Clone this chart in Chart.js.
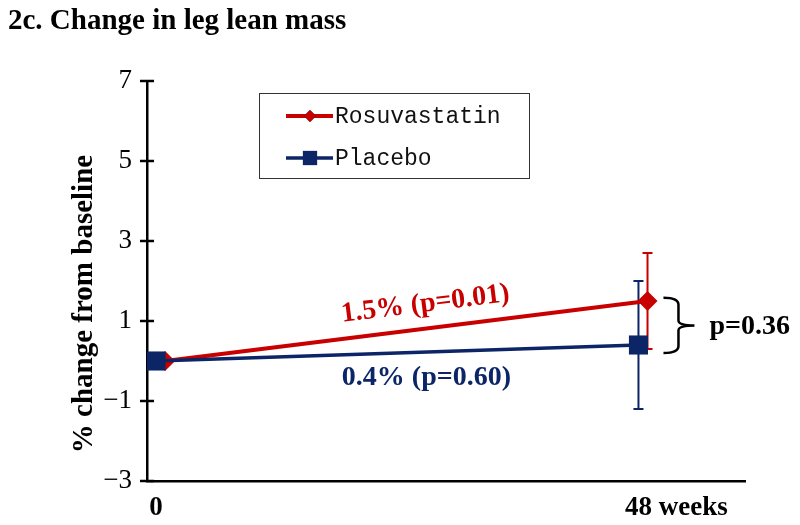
<!DOCTYPE html>
<html>
<head>
<meta charset="utf-8">
<script src="https://cdn.jsdelivr.net/npm/chart.js@4.4.1/dist/chart.umd.min.js"></script>
<style>
  html, body { margin: 0; padding: 0; background: #fff; }
  #wrap { width: 800px; height: 525px; }
</style>
</head>
<body>
<div id="wrap"><canvas id="leanChart"></canvas></div>
<script>
// data
const weeks = [0, 48];
const xTickLabels = ['0', '48'];
const xUnit = 'weeks';
const yTicks = [-3, -1, 1, 3, 5, 7];

const rosuvaMean = [0, 1.5];
const rosuvaUpper = [null, 2.7];
const rosuvaLower = [null, 0.3];

const placeboMean = [0, 0.4];
const placeboUpper = [null, 2.0];
const placeboLower = [null, -1.2];

const seriesNames = ['Rosuvastatin', 'Placebo'];
const changeNotes = ['1.5% (p=0.01)', '0.4% (p=0.60)'];
const betweenNote = 'p=0.36';

const RED = '#C80000';
const NAVY = '#0B2566';
const SERIF = '"Liberation Serif", "DejaVu Serif", serif';
const MONO = '"Liberation Mono", "DejaVu Sans Mono", monospace';
const rosuvaDodge = 0.9; // Excel puts the red series a little to the right
const X_LABEL_PAD = 11;
const X_LABEL_SIZE = 27;

const toPoints = (vals, shift) => vals.map((v, i) => ({ x: weeks[i] + shift, y: v }));

const extras = {
  id: 'extras',
  beforeDatasetsDraw(chart) {
    const { ctx, chartArea, scales: { x, y } } = chart;
    ctx.save();
    // y ticks crossing the axis
    ctx.strokeStyle = '#000';
    ctx.lineWidth = 2.5;
    yTicks.forEach(t => {
      const py = y.getPixelForValue(t);
      ctx.beginPath();
      ctx.moveTo(chartArea.left - 7, py);
      ctx.lineTo(chartArea.left + 7, py);
      ctx.stroke();
    });
    // error bars
    const bars = [
      [rosuvaUpper, rosuvaLower, rosuvaDodge, RED],
      [placeboUpper, placeboLower, 0, NAVY],
    ];
    bars.forEach(([up, lo, shift, color]) => {
      ctx.strokeStyle = color;
      ctx.lineWidth = 2;
      up.forEach((u, i) => {
        if (u === null) return;
        const px = x.getPixelForValue(weeks[i] + shift);
        const pu = y.getPixelForValue(u);
        const pl = y.getPixelForValue(lo[i]);
        ctx.beginPath();
        ctx.moveTo(px, pu); ctx.lineTo(px, pl);
        ctx.moveTo(px - 5, pu); ctx.lineTo(px + 5, pu);
        ctx.moveTo(px - 5, pl); ctx.lineTo(px + 5, pl);
        ctx.stroke();
      });
    });
    ctx.restore();
  },
  afterDraw(chart) {
    const { ctx, chartArea, scales: { x, y } } = chart;
    ctx.save();

    // title
    ctx.fillStyle = '#000';
    ctx.font = 'bold 29px ' + SERIF;
    ctx.textAlign = 'left';
    ctx.textBaseline = 'middle';
    ctx.fillText('2c. Change in leg lean mass', 8, 22);

    // y axis title
    ctx.save();
    ctx.translate(85, 304);
    ctx.rotate(-Math.PI / 2);
    ctx.textAlign = 'center';
    ctx.font = 'bold 29px ' + SERIF;
    ctx.fillText('% change from baseline', 0, 0);
    ctx.restore();

    // unit after the last x label, on the same line as the tick label
    ctx.font = 'bold ' + X_LABEL_SIZE + 'px ' + SERIF;
    const lastX = x.getPixelForValue(weeks[weeks.length - 1]);
    const half = ctx.measureText(xTickLabels[xTickLabels.length - 1]).width / 2;
    const labelY = chartArea.bottom + X_LABEL_PAD + X_LABEL_SIZE * 1.2 / 2;
    ctx.textAlign = 'left';
    ctx.fillText(' ' + xUnit, lastX + half, labelY);

    // change annotations
    const r0x = x.getPixelForValue(weeks[0] + rosuvaDodge), r0y = y.getPixelForValue(rosuvaMean[0]);
    const r1x = x.getPixelForValue(weeks[1] + rosuvaDodge), r1y = y.getPixelForValue(rosuvaMean[1]);
    const ang = Math.atan2(r1y - r0y, r1x - r0x);
    ctx.font = 'bold 28px ' + SERIF;
    ctx.textAlign = 'center';
    ctx.fillStyle = RED;
    ctx.save();
    ctx.translate(x.getPixelForValue(26.8), y.getPixelForValue(1.42));
    ctx.rotate(ang);
    ctx.fillText(changeNotes[0], 0, 0);
    ctx.restore();
    ctx.fillStyle = NAVY;
    ctx.fillText(changeNotes[1], x.getPixelForValue(26.9), y.getPixelForValue(-0.43));

    // brace between the groups at 48 weeks
    const bx = x.getPixelForValue(weeks[1]) + 25;
    const top = y.getPixelForValue(1.58), bot = y.getPixelForValue(0.2);
    const mid = (top + bot) / 2;
    ctx.strokeStyle = '#000';
    ctx.lineWidth = 2.5;
    ctx.beginPath();
    ctx.moveTo(bx, top);
    ctx.quadraticCurveTo(bx + 15, top, bx + 15, top + 7);
    ctx.lineTo(bx + 15, mid - 5);
    ctx.quadraticCurveTo(bx + 15, mid, bx + 31, mid);
    ctx.quadraticCurveTo(bx + 15, mid, bx + 15, mid + 5);
    ctx.lineTo(bx + 15, bot - 7);
    ctx.quadraticCurveTo(bx + 15, bot, bx, bot);
    ctx.stroke();
    ctx.fillStyle = '#000';
    ctx.textAlign = 'left';
    ctx.fillText(betweenNote, bx + 46, mid + 1);

    // legend box
    const lx = 259, ly = 93, lw = 270, lh = 85;
    ctx.strokeStyle = '#333';
    ctx.lineWidth = 1;
    ctx.strokeRect(lx + 0.5, ly + 0.5, lw, lh);
    ctx.font = '23px ' + MONO;
    ctx.textAlign = 'left';
    chart.data.datasets.forEach((ds, i) => {
      const ey = ly + 23 + i * 42;
      ctx.strokeStyle = ds.borderColor;
      ctx.lineWidth = ds.borderWidth;
      ctx.beginPath();
      ctx.moveTo(lx + 27, ey); ctx.lineTo(lx + 74, ey);
      ctx.stroke();
      Chart.helpers.drawPoint(ctx, {
        pointStyle: ds.pointStyle,
        radius: i === 0 ? 6 : 10,
        borderWidth: 0,
      }, lx + 51, ey);
      ctx.fillStyle = ds.pointBackgroundColor;
      ctx.fill();
      ctx.fillStyle = '#111';
      ctx.fillText(ds.label, lx + 76, ey + 1);
    });

    ctx.restore();
  }
};

new Chart(document.getElementById('leanChart'), {
  type: 'line',
  data: {
    datasets: [
      {
        label: seriesNames[0],
        data: toPoints(rosuvaMean, rosuvaDodge),
        borderColor: RED,
        backgroundColor: RED,
        pointBackgroundColor: RED,
        pointBorderWidth: 0,
        borderWidth: 4,
        pointStyle: 'rectRot',
        pointRadius: 10,
        order: 2,
      },
      {
        label: seriesNames[1],
        data: toPoints(placeboMean, 0),
        borderColor: NAVY,
        backgroundColor: NAVY,
        pointBackgroundColor: NAVY,
        pointBorderWidth: 0,
        borderWidth: 3.5,
        pointStyle: 'rect',
        pointRadius: 13.5,
        order: 1,
      },
    ],
  },
  options: {
    responsive: true,
    maintainAspectRatio: false,
    animation: false,
    layout: { padding: { top: 81, right: 55, left: 0, bottom: 0 } },
    plugins: {
      legend: { display: false },
      tooltip: { enabled: false },
    },
    scales: {
      x: {
        type: 'linear',
        min: -0.9,
        max: 58.6,
        afterFit: s => { s.height = 44; },
        afterBuildTicks: s => { s.ticks = weeks.map(v => ({ value: v })); },
        grid: { display: false, drawTicks: false },
        border: { display: true, color: '#000', width: 2.5 },
        ticks: {
          padding: X_LABEL_PAD,
          color: '#000',
          font: { family: SERIF, size: X_LABEL_SIZE, weight: 'bold', lineHeight: 1.2 },
          callback: (v, i) => xTickLabels[i],
        },
      },
      y: {
        min: -3,
        max: 7,
        afterFit: s => { s.width = 147; },
        afterBuildTicks: s => { s.ticks = yTicks.map(v => ({ value: v })); },
        grid: { display: false, drawTicks: false },
        border: { display: true, color: '#000', width: 2.5 },
        ticks: {
          padding: 15,
          color: '#000',
          font: { family: SERIF, size: 27 },
          callback: v => (v < 0 ? '\u2212' + Math.abs(v) : String(v)),
        },
      },
    },
  },
  plugins: [extras],
});
</script>
</body>
</html>
